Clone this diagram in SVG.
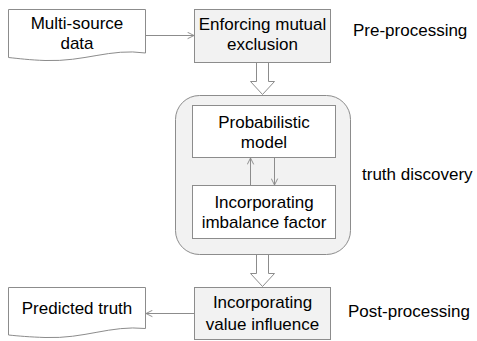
<svg xmlns="http://www.w3.org/2000/svg" width="477" height="341" viewBox="0 0 477 341">
<defs>
<style>
.t{font-family:"Liberation Sans",Arial,sans-serif;font-size:17px;fill:#000;text-anchor:middle}
.l{font-family:"Liberation Sans",Arial,sans-serif;font-size:17px;fill:#000}
.box{stroke:#8c8c8c;stroke-width:1}
.conn{stroke:#8c8c8c;stroke-width:1;fill:none}
</style>
<marker id="ah" viewBox="0 0 10 10" refX="9" refY="5" markerWidth="8" markerHeight="8" orient="auto" markerUnits="userSpaceOnUse">
<path d="M1,1 L9,5 L1,9" fill="none" stroke="#8c8c8c" stroke-width="1.2"/>
</marker>
</defs>
<rect width="477" height="341" fill="#fff"/>
<g id="container">
<rect x="175.5" y="95.5" width="175" height="159" rx="24" ry="24" fill="#f2f2f2" class="box"/>
</g>
<g id="multi-source">
<path d="M8.5,9.5 H145.5 V53 C110,48 85,62 45,60.5 C30,60 18,58.5 8.5,57.5 Z" fill="#fff" class="box"/>
<text class="t" x="77" y="29">Multi-source</text>
<text class="t" x="77" y="49">data</text>
</g>
<g id="enforcing">
<rect x="194.5" y="9.5" width="136" height="53" fill="#f2f2f2" class="box"/>
<text class="t" x="262.5" y="30">Enforcing mutual</text>
<text class="t" x="262.5" y="50">exclusion</text>
</g>
<g id="probabilistic">
<rect x="192.5" y="105.5" width="143" height="52" fill="#fff" class="box"/>
<text class="t" x="264" y="128">Probabilistic</text>
<text class="t" x="264" y="148">model</text>
</g>
<g id="imbalance">
<rect x="192.5" y="185.5" width="143" height="53" fill="#fff" class="box"/>
<text class="t" x="264" y="208">Incorporating</text>
<text class="t" x="264" y="228">imbalance factor</text>
</g>
<g id="value-influence">
<rect x="194.5" y="287.5" width="136" height="52" fill="#f2f2f2" class="box"/>
<text class="t" x="262.5" y="308">Incorporating</text>
<text class="t" x="262.5" y="330">value influence</text>
</g>
<g id="predicted">
<path d="M8.5,287.5 H145.5 V328.5 C110,325 85,339 45,337.5 C30,337 18,336 8.5,335 Z" fill="#fff" class="box"/>
<text class="t" x="77" y="314">Predicted truth</text>
</g>
<g id="labels">
<text class="l" x="353" y="36">Pre-processing</text>
<text class="l" x="362" y="180">truth discovery</text>
<text class="l" x="348" y="317">Post-processing</text>
</g>
<g id="connectors">
<line x1="145.5" y1="35.5" x2="194" y2="35.5" class="conn" marker-end="url(#ah)"/>
<line x1="194" y1="313.5" x2="146" y2="313.5" class="conn" marker-end="url(#ah)"/>
<line x1="250.5" y1="185" x2="250.5" y2="158" class="conn" marker-end="url(#ah)"/>
<line x1="274.5" y1="158" x2="274.5" y2="185" class="conn" marker-end="url(#ah)"/>
<path d="M256.5,62.5 V81.5 H250.5 L262.5,94.5 L274.5,81.5 H268.5 V62.5" fill="#fff" class="conn"/>
<path d="M256.5,254.5 V273.5 H250.5 L262.5,286.5 L274.5,273.5 H268.5 V254.5" fill="#fff" class="conn"/>
</g>
</svg>
